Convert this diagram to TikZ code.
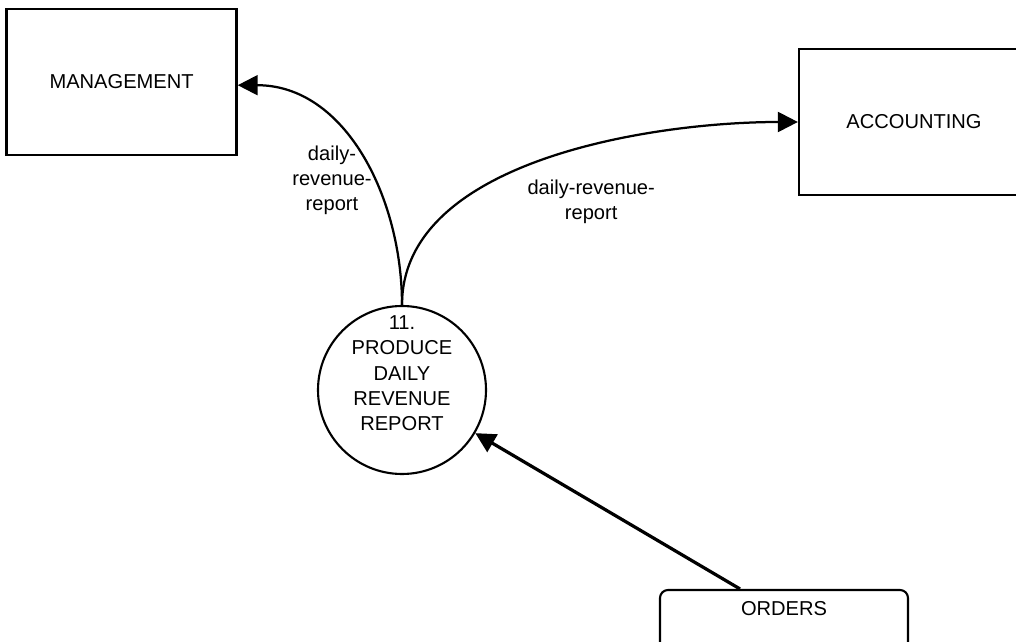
\documentclass[tikz,border=0pt]{standalone}
\usepackage{fontspec}
\setmainfont{Liberation Sans}
\usetikzlibrary{positioning,arrows.meta}
\tikzset{
  flowarrow/.style={-{Triangle[length=5mm, width=5mm]}, line width=1.6pt},
  extent/.style={draw, line width=1.6pt, minimum width=5.75cm, minimum height=3.65cm, align=center},
  process/.style={draw, circle, line width=1.5pt, minimum size=4.2cm},
  store/.style={draw, rounded corners=0.2cm, line width=1.5pt, minimum width=6.2cm, minimum height=2cm},
  flowlabel/.style={align=center, inner sep=1pt}
}

\begin{document}
\begin{tikzpicture}[every node/.style={font=\fontsize{14.3}{17.8}\selectfont}]
  \useasboundingbox (0,0) rectangle (25.4,16.05);
  \node[extent] (mgmt) at (3.04,14.0) {MANAGEMENT};
  \node[extent] (acct) at (22.85,13.0) {ACCOUNTING};
  \node[process] (proc) at (10.05,6.3) {};
  \node[flowlabel] (proclbl) at ([yshift=0.42cm]proc.center) {11.\\ PRODUCE\\ DAILY\\ REVENUE\\ REPORT};
  \node[store] (orders) at (19.6,0.3) {};
  \node (orderslbl) at ([yshift=-0.5cm]orders.north) {ORDERS};
  \draw[flowarrow] (proc.north) to[out=90, in=0] ([yshift=-0.08cm]mgmt.east);
  \node[flowlabel] (lblmgmt) at (8.3,11.55) {daily-\\ revenue-\\ report};
  \draw[flowarrow] (proc.north) to[out=90, in=180, looseness=0.85] (acct.west);
  \node[flowlabel] (lblacct) at (14.78,11.0) {daily-revenue-\\ report};
  \draw[flowarrow, line width=2.3pt] ([xshift=-1.1cm]orders.north) -- (proc);
\end{tikzpicture}
\end{document}
